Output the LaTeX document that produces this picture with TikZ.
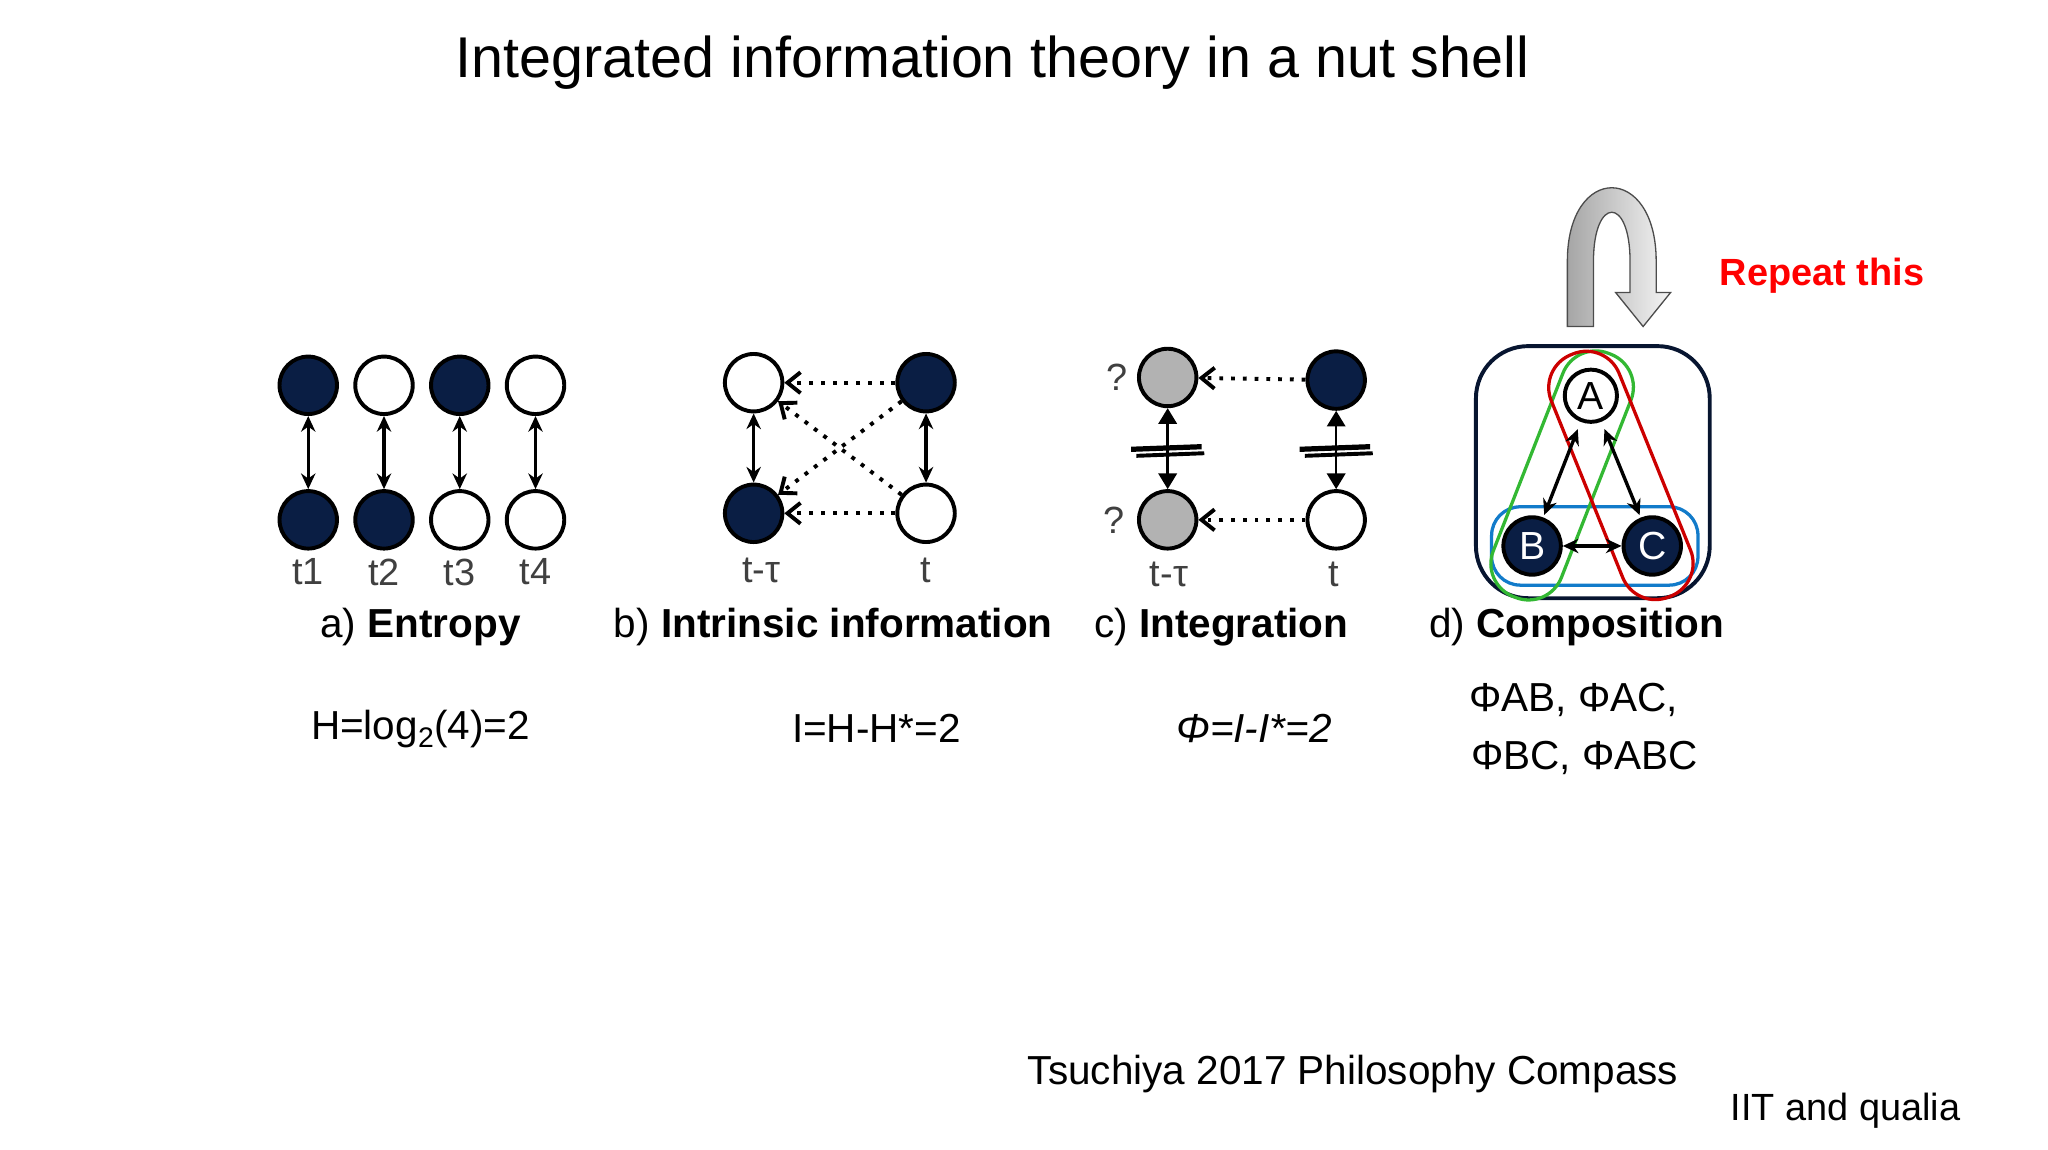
\documentclass[tikz,border=0pt]{standalone}
\usepackage{fontspec}
\setmainfont{Liberation Sans}
\usetikzlibrary{positioning,arrows.meta,shapes}
\tikzset{
  dot/.style={circle, draw=black, line width=3pt, minimum size=44pt, inner sep=0pt},
  full/.style={dot, fill=navy},
  empty/.style={dot, fill=white},
  grey/.style={dot, fill=gray!60},
  both/.style={{Stealth[length=12pt,width=11pt]}-{Stealth[length=12pt,width=11pt]}, line width=2.6pt},
  dots/.style={-{Straight Barb[length=10pt,width=16pt]}, line width=3pt, dash pattern=on 3pt off 6pt},
  lbl/.style={font=\fontsize{29}{31}\selectfont, text=black!75},
  caption/.style={font=\fontsize{31}{36}\selectfont},
  loop/.style={draw, line width=2.5pt, rounded corners=27pt, minimum width=200pt, minimum height=56pt}
}
\definecolor{navy}{RGB}{10,30,68}
\begin{document}
\begin{tikzpicture}[x=1pt, y=-1pt]
\useasboundingbox (0,0) rectangle (1568,880);
\node[font=\fontsize{44}{48}\selectfont] (title) at (760,48) {Integrated information theory in a nut shell};
% a) entropy
\foreach \x/\top/\bot/\k in {236/full/full/1, 294/empty/full/2, 352/full/empty/3, 410/empty/empty/4} {
  \node[\top] (a\k) at (\x,295) {};
  \node[\bot] (b\k) at (\x,398) {};
  \draw[both] (a\k) -- (b\k);
  \node[lbl] (t\k) at (\x,438) {t\k};
}
\node[caption] (capa) at (322,480) {a) \textbf{Entropy}};
% b) intrinsic information
\node[empty] (bpast1) at (577,293) {};
\node[full] (bnow1) at (709,293) {};
\node[full] (bpast2) at (577,393) {};
\node[empty] (bnow2) at (709,393) {};
\draw[both] (bpast1) -- (bpast2);
\draw[both] (bnow1) -- (bnow2);
\draw[dots] (bnow1) -- (bpast1);
\draw[dots] (bnow2) -- (bpast2);
\draw[dots] (bnow1) -- (bpast2);
\draw[dots] (bnow2) -- (bpast1);
\node[lbl] (btpast) at (583,437) {t-τ};
\node[lbl] (btnow) at (709,437) {t};
\node[caption] (capb) at (638,480) {b) \textbf{Intrinsic information}};
% c) integration
\node[grey] (cpast1) at (894,289) {};
\node[full] (cnow1) at (1023,291) {};
\node[grey] (cpast2) at (894,398) {};
\node[empty] (cnow2) at (1023,398) {};
\draw[dots] (cnow1) -- (cpast1);
\draw[dots] (cnow2) -- (cpast2);
\draw[{Triangle[length=12pt,width=14pt]}-{Triangle[length=12pt,width=14pt]}, line width=2pt] (cpast1) -- (cpast2);
\draw[{Triangle[length=12pt,width=14pt]}-{Triangle[length=12pt,width=14pt]}, line width=2pt] (cnow1) -- (cnow2);
\foreach \x in {894,1023} {
  \draw[line width=4pt] (\x-28,344) -- (\x+26,342);
  \draw[line width=3pt] (\x-24,349) -- (\x+28,347);
}
\node[lbl] (q1) at (855,289) {?};
\node[lbl] (q2) at (853,398) {?};
\node[lbl] (ctpast) at (895,440) {t-τ};
\node[lbl] (ctnow) at (1021,440) {t};
\node[caption] (capc) at (935,480) {c) \textbf{Integration}};
% d) composition
\draw[line width=3pt, draw=navy!70!black, rounded corners=40pt] (1130,265) rectangle (1309,458);
\draw[line width=2.5pt, draw=cyan!60!blue, rounded corners=22pt] (1142,388) rectangle (1300,448);
\node[loop, draw=green!65!black!80, rotate=68.6] (loopab) at (1196,364) {};
\node[loop, draw=red!80!black, rotate=112] (loopac) at (1241,364) {};
\node[empty, minimum size=40pt, font=\fontsize{30}{32}\selectfont] (A) at (1218,303) {A};
\node[full, minimum size=44pt, text=white, font=\fontsize{30}{32}\selectfont] (B) at (1173,418) {B};
\node[full, minimum size=44pt, text=white, font=\fontsize{30}{32}\selectfont] (C) at (1265,418) {C};
\draw[both, shorten <=6pt, shorten >=2pt] (A) -- (B);
\draw[both, shorten <=6pt, shorten >=2pt] (A) -- (C);
\draw[both] (B) -- (C);
\node[caption] (capd) at (1207,480) {d) \textbf{Composition}};
% repeat arrow
\shade[left color=gray!70, right color=gray!8, draw=black!70, line width=1pt]
  (1200,250) -- (1200,200) .. controls (1200,125) and (1268,125) .. (1268,200) -- (1268,224) -- (1279,224)
  -- (1258,250) -- (1237,224) -- (1248,224) -- (1248,200) .. controls (1248,150) and (1220,150) .. (1220,200)
  -- (1220,250) -- cycle;
\node[font=\fontsize{29}{31}\selectfont\bfseries, text=red] (rep) at (1395,211) {Repeat this};
% formulas
\node[caption] (fa) at (322,558) {H=log\textsubscript{2}(4)=2};
\node[caption] (fb) at (671,558) {I=H-H*=2};
\node[caption, font=\fontsize{31}{36}\selectfont\itshape] (fc) at (960,558) {Φ=I-I*=2};
\node[caption] (fd1) at (1205,536) {ΦAB, ΦAC,};
\node[caption] (fd2) at (1213,580) {ΦBC, ΦABC};
\node[caption] (ref) at (1036,822) {Tsuchiya 2017 Philosophy Compass};
\node[font=\fontsize{29}{31}\selectfont] (iit) at (1413,850) {IIT and qualia};
\end{tikzpicture}
\end{document}
